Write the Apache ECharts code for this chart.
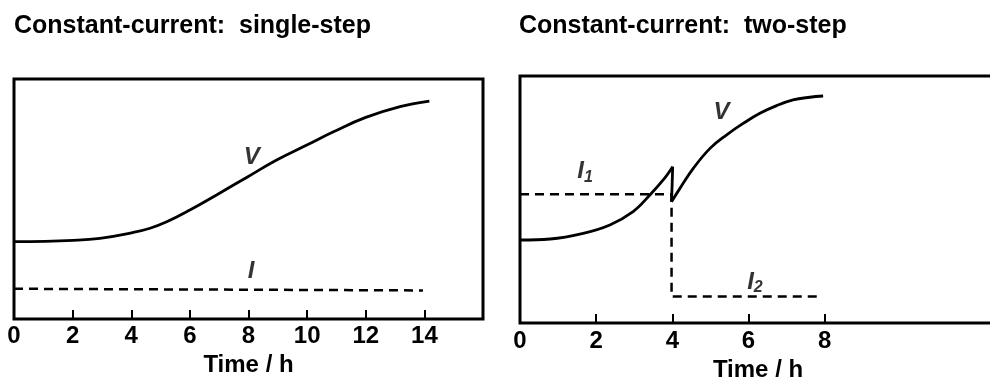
<!DOCTYPE html>
<html>
<head>
<meta charset="utf-8">
<title>Constant-current charging profiles</title>
<script src="https://cdn.jsdelivr.net/npm/echarts@6/dist/echarts.min.js"></script>
<style>
  html, body { margin: 0; padding: 0; background: #fff; }
  #chart { width: 990px; height: 383px; }
</style>
</head>
<body>
<div id="chart"></div>
<script>
// Single-step charge: cell voltage V and constant current I versus time (h)
const singleTime    = [0, 2.02, 2.93, 4.04, 4.64, 5.21, 6.0, 6.91, 7.98, 8.96, 9.99, 10.9, 12.0, 13.17, 14.17];
const singleVoltage = [32.2, 32.8, 33.6, 36.0, 37.8, 40.5, 45.4, 51.7, 59.3, 66.25, 72.5, 78.0, 84.0, 88.5, 90.8];
const singleCurrentTime = [0, 13.95];
const singleCurrent     = [12.6, 11.9];

// Two-step charge: voltage before the current switch, the drop at the switch, and after it
const stepTime = 3.98;
const twoTimeBefore    = [0, 0.79, 1.66, 2.36, 2.97, 3.41, 3.76, 4.01];
const twoVoltageBefore = [33.6, 34.0, 36.3, 39.7, 45.1, 51.8, 57.9, 63.3];
const twoTimeAfter     = [3.98, 4.2, 4.55, 4.99, 5.42, 5.86, 6.3, 6.74, 7.17, 7.61, 7.96];
const twoVoltageAfter  = [49.1, 54.5, 62.6, 70.7, 76.1, 80.8, 84.9, 88.0, 90.3, 91.4, 91.9];
const twoCurrentTime = [0, stepTime, stepTime, 7.86];
const twoCurrent     = [52.1, 52.1, 10.7, 10.7];

// Tick labels shown on each time axis
const singleTicks = [0, 2, 4, 6, 8, 10, 12, 14];
const twoTicks    = [0, 2, 4, 6, 8];

// Curve annotations: [time, level, text]
const singleNotes = [[8.11, 67.5, 'V'], [8.09, 19.8, 'I']];
const twoNotes    = [[5.29, 85.2, 'V'], [1.71, 61.5, '{m|I}{s|1}'], [6.17, 16.6, '{m|I}{s|2}']];

const zip = (xs, ys) => xs.map((x, i) => [x, ys[i]]);
const FONT = '"Liberation Sans", Arial, Helvetica, sans-serif';
const INK = '#000';

function timeAxis(gridIndex, max, ticks, margin, nameGap) {
  return {
    type: 'value', gridIndex: gridIndex, min: 0, max: max,
    axisLine: { show: false },
    splitLine: { show: false },
    axisTick: { show: true, inside: true, length: 9, customValues: ticks,
                lineStyle: { color: INK, width: 2 } },
    axisLabel: { customValues: ticks, margin: margin, color: INK, fontSize: 24,
                 fontWeight: 'bold', fontFamily: FONT },
    name: 'Time / h', nameLocation: 'middle', nameGap: nameGap,
    nameTextStyle: { color: INK, fontSize: 24, fontWeight: 'bold', fontFamily: FONT }
  };
}

function curve(idx, data, smooth, dashed) {
  return {
    type: 'line', xAxisIndex: idx, yAxisIndex: idx, data: data,
    smooth: smooth, symbol: 'none', silent: true,
    lineStyle: { color: INK, width: dashed ? 2.5 : 2.8, type: dashed ? [9, 6] : 'solid' }
  };
}

function notes(idx, data) {
  return {
    type: 'scatter', xAxisIndex: idx, yAxisIndex: idx, data: data,
    symbolSize: 0, silent: true,
    label: {
      show: true, position: 'inside',
      formatter: p => p.data[2],
      color: INK, fontSize: 24, fontStyle: 'italic', fontWeight: 'bold', fontFamily: FONT,
      rich: {
        m: { fontSize: 24, fontStyle: 'italic', fontWeight: 'bold', fontFamily: FONT,
             color: INK, lineHeight: 28 },
        s: { fontSize: 16, fontStyle: 'italic', fontWeight: 'bold', fontFamily: FONT,
             color: INK, lineHeight: 16, verticalAlign: 'bottom' }
      }
    }
  };
}

const chart = echarts.init(document.getElementById('chart'), null, { renderer: 'canvas' });
chart.setOption({
  animation: false,
  backgroundColor: '#fff',
  title: [
    { text: 'Constant-current:  single-step', left: 14, top: 14, padding: 0,
      textStyle: { color: INK, fontSize: 25, fontWeight: 'bold', fontFamily: FONT } },
    { text: 'Constant-current:  two-step', left: 519, top: 14, padding: 0,
      textStyle: { color: INK, fontSize: 25, fontWeight: 'bold', fontFamily: FONT } }
  ],
  grid: [
    { left: 14, top: 79, width: 469, height: 240, show: true, outerBoundsMode: 'none',
      borderColor: INK, borderWidth: 3, backgroundColor: 'transparent' },
    // the second frame runs on past the right edge of the page
    { left: 520, top: 76, width: 476, height: 247, show: true, outerBoundsMode: 'none',
      borderColor: INK, borderWidth: 3, backgroundColor: 'transparent' }
  ],
  xAxis: [
    timeAxis(0, 16, singleTicks, 5, 33),
    timeAxis(1, 12.5, twoTicks, 6, 34)
  ],
  yAxis: [
    { type: 'value', gridIndex: 0, min: 0, max: 100, show: false },
    { type: 'value', gridIndex: 1, min: 0, max: 100, show: false }
  ],
  series: [
    curve(0, zip(singleTime, singleVoltage), 0.45, false),
    curve(0, zip(singleCurrentTime, singleCurrent), false, true),
    notes(0, singleNotes),
    curve(1, zip(twoTimeBefore, twoVoltageBefore), 0.4, false),
    curve(1, [[twoTimeBefore[twoTimeBefore.length - 1], twoVoltageBefore[twoVoltageBefore.length - 1]],
              [twoTimeAfter[0], twoVoltageAfter[0]]], false, false),
    curve(1, zip(twoTimeAfter, twoVoltageAfter), 0.4, false),
    curve(1, zip(twoCurrentTime, twoCurrent), false, true),
    notes(1, twoNotes)
  ]
});
</script>
</body>
</html>
